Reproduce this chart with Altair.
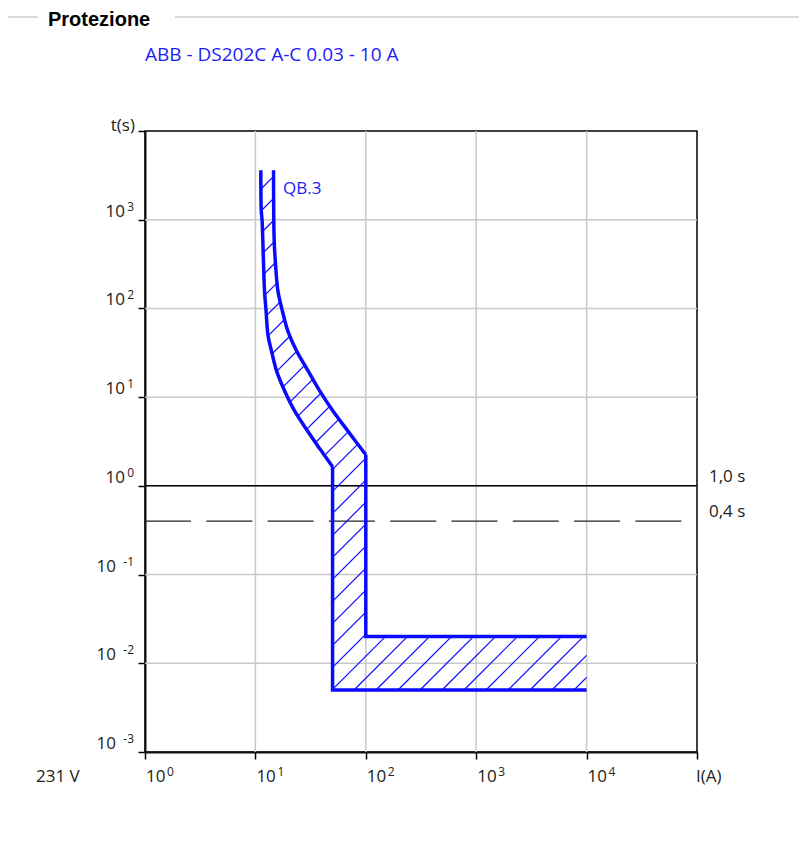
import numpy as np
import pandas as pd
import altair as alt

# ---------------- data ----------------
x_ticks = [1, 10, 100, 1000, 10000, 100000]
y_ticks = [0.001, 0.01, 0.1, 1, 10, 100, 1000, 10000]
x_grid = [10, 100, 1000, 10000]
y_grid = [0.01, 0.1, 1, 10, 100, 1000]
x_label_vals = [1, 10, 100, 1000, 10000]
x_label_exps = ["0", "1", "2", "3", "4"]
y_label_vals = [0.001, 0.01, 0.1, 1, 10, 100, 1000]
y_label_exps = ["-3", "-2", "-1", "0", "1", "2", "3"]

# left (lower) boundary of the tripping band, top -> bottom -> right
left_I = [11.2, 11.3, 11.5, 11.8, 12.1, 12.5, 13.0, 14.0, 15.6, 18.5, 22.8, 29.9, 38.5, 50.0, 50.0, 10000]
left_t = [3600, 1270, 975, 372, 157, 93, 50, 33, 19.5, 11.6, 6.9, 4.1, 2.6, 1.64, 0.005, 0.005]
LEFT_KNEE = 13          # index where the curved part ends
# right (upper) boundary, top -> bottom -> right
right_I = [14.6, 14.8, 15.3, 16.0, 17.3, 19.7, 23.7, 30.2, 38.5, 50.8, 69.4, 100, 100, 10000]
right_t = [3600, 578, 286, 157, 101, 55.4, 32.9, 19.5, 11.6, 6.88, 4.09, 2.24, 0.02, 0.02]
RIGHT_KNEE = 11

ref_t = [1.0, 0.4]
ref_labels = ["1,0 s", "0,4 s"]

frame_label = "Protezione"
title_text = "ABB - DS202C A-C 0.03 - 10 A"
device_label = "QB.3"
voltage_label = "231 V"
x_unit = "I(A)"
y_unit = "t(s)"

# ---------------- geometry ----------------
W, H = 552, 621
XMIN, XMAX = 1, 1e5
YMIN, YMAX = 1e-3, 1e4
NX = np.log10(XMAX / XMIN)
NY = np.log10(YMAX / YMIN)

FONT = "Open Sans"
BLUE = "#0a0aff"
TBLUE = "#1c1cf4"
TXT = "#222222"
FS = 17
FE = 12

xscale = alt.Scale(type="log", domain=[XMIN, XMAX], nice=False)
yscale = alt.Scale(type="log", domain=[YMIN, YMAX], nice=False)


def to_px(I, t):
    return np.array([W * np.log10(I / XMIN) / NX, H * np.log10(YMAX / t) / NY])


def from_px(p):
    return XMIN * 10 ** (p[0] * NX / W), YMAX / 10 ** (p[1] * NY / H)


# hatch lines (45 deg on screen) clipped to the band polygon
poly = [to_px(i, t) for i, t in zip(left_I, left_t)] + \
       [to_px(i, t) for i, t in zip(right_I[::-1], right_t[::-1])]
P = np.array(poly)
s = P[:, 0] + P[:, 1]
STEP, PHASE = 22.0, 768.0
c0 = PHASE + STEP * np.floor((s.min() - PHASE) / STEP)
rows = []
for c in np.arange(c0, s.max() + STEP, STEP):
    pts = []
    n = len(P)
    for k in range(n):
        a, b = P[k], P[(k + 1) % n]
        fa, fb = a.sum() - c, b.sum() - c
        if (fa < 0) != (fb < 0):
            r = fa / (fa - fb)
            pts.append(a + (b - a) * r)
    pts.sort(key=lambda p: p[0])
    for j in range(0, len(pts) - 1, 2):
        I1, t1 = from_px(pts[j])
        I2, t2 = from_px(pts[j + 1])
        rows.append({"I1": I1, "t1": t1, "I2": I2, "t2": t2})
hatch_df = pd.DataFrame(rows)


def part(I, t, name):
    return pd.DataFrame({"I": I, "t": t, "side": name, "idx": range(len(I))})


curved_df = pd.concat([
    part(left_I[:LEFT_KNEE + 1], left_t[:LEFT_KNEE + 1], "left"),
    part(right_I[:RIGHT_KNEE + 1], right_t[:RIGHT_KNEE + 1], "right"),
])
straight_df = pd.concat([
    part(left_I[LEFT_KNEE:], left_t[LEFT_KNEE:], "left"),
    part(right_I[RIGHT_KNEE:], right_t[RIGHT_KNEE:], "right"),
])

# ---------------- layers ----------------
xgrid = alt.Chart(pd.DataFrame({"I": x_grid})).mark_rule(color="#c8c8c8", strokeWidth=1.5).encode(
    x=alt.X("I:Q", scale=xscale, title=None,
            axis=alt.Axis(values=x_ticks, labels=False, grid=False, tickSize=7, tickWidth=1.5,
                          tickColor="black", domainColor="#111", domainWidth=2)))
ygrid = alt.Chart(pd.DataFrame({"t": y_grid})).mark_rule(color="#c8c8c8", strokeWidth=1.5).encode(
    y=alt.Y("t:Q", scale=yscale, title=None,
            axis=alt.Axis(values=y_ticks, labels=False, grid=False, tickSize=7, tickWidth=1.5,
                          tickColor="black", domainColor="#111", domainWidth=2)))

ref_df = pd.DataFrame({"t": ref_t, "lab": ref_labels})
ref_solid = alt.Chart(ref_df).transform_filter("datum.t == 1").mark_rule(
    color="black", strokeWidth=1.5).encode(
    x=alt.value(0), x2=alt.value(W), y=alt.Y("t:Q", scale=yscale, title=None))
ref_dash = alt.Chart(ref_df).transform_filter("datum.t != 1").mark_rule(
    color="#222", strokeWidth=1.2, strokeDash=[46, 15.3]).encode(
    x=alt.value(0), x2=alt.value(W), y=alt.Y("t:Q", scale=yscale, title=None))
ref_text = alt.Chart(ref_df).mark_text(
    align="left", baseline="alphabetic", dy=-4, fontSize=FS, font=FONT, color=TXT).encode(
    x=alt.value(564), y=alt.Y("t:Q", scale=yscale, title=None), text="lab:N")

hatch = alt.Chart(hatch_df).mark_rule(color=BLUE, strokeWidth=1.2).encode(
    x=alt.X("I1:Q", scale=xscale, title=None), y=alt.Y("t1:Q", scale=yscale, title=None),
    x2="I2:Q", y2="t2:Q")

curves = alt.Chart(curved_df).mark_line(
    color=BLUE, strokeWidth=3.5, strokeJoin="round", interpolate="catmull-rom").encode(
    x=alt.X("I:Q", scale=xscale, title=None), y=alt.Y("t:Q", scale=yscale, title=None),
    detail="side:N", order="idx:Q")
straights = alt.Chart(straight_df).mark_line(
    color=BLUE, strokeWidth=3.5, strokeJoin="miter").encode(
    x=alt.X("I:Q", scale=xscale, title=None), y=alt.Y("t:Q", scale=yscale, title=None),
    detail="side:N", order="idx:Q")

xl_df = pd.DataFrame({"I": x_label_vals, "exp": x_label_exps})
xbase = alt.Chart(xl_df).mark_text(align="left", baseline="alphabetic", dx=1, fontSize=FS,
                                   font=FONT, color=TXT).encode(
    x=alt.X("I:Q", scale=xscale, title=None), y=alt.value(651), text=alt.value("10"))
xexp = alt.Chart(xl_df).mark_text(align="left", baseline="alphabetic", dx=22, fontSize=FE,
                                  font=FONT, color=TXT).encode(
    x=alt.X("I:Q", scale=xscale, title=None), y=alt.value(645), text="exp:N")

yl_df = pd.DataFrame({"t": y_label_vals, "exp": y_label_exps})
ybase1 = alt.Chart(yl_df).transform_filter("length(datum.exp) == 1").mark_text(
    align="right", baseline="alphabetic", dy=-3, fontSize=FS, font=FONT, color=TXT).encode(
    x=alt.value(-20), y=alt.Y("t:Q", scale=yscale, title=None), text=alt.value("10"))
ybase2 = alt.Chart(yl_df).transform_filter("length(datum.exp) > 1").mark_text(
    align="right", baseline="alphabetic", dy=-3, fontSize=FS, font=FONT, color=TXT).encode(
    x=alt.value(-29), y=alt.Y("t:Q", scale=yscale, title=None), text=alt.value("10"))
yexp = alt.Chart(yl_df).mark_text(
    align="right", baseline="alphabetic", dy=-9, fontSize=FE, font=FONT, color=TXT).encode(
    x=alt.value(-11), y=alt.Y("t:Q", scale=yscale, title=None), text="exp:N")


def label(txt, x, y, size=FS, color=TXT, weight="normal", align="left", font=FONT):
    return alt.Chart(pd.DataFrame({"s": [txt]})).mark_text(
        align=align, baseline="alphabetic", fontSize=size, font=font, color=color,
        fontWeight=weight).encode(x=alt.value(x), y=alt.value(y), text="s:N")


frame_lines = alt.Chart(pd.DataFrame({"a": [-137, 30], "b": [-107, 654]})).mark_rule(
    color="#b4b4b4", strokeWidth=1).encode(
    x=alt.X("a:Q", scale=None), x2="b:Q", y=alt.value(-114))

texts = [
    label(frame_label, -97, -105, size=20, color="black", weight="bold", font="Liberation Sans"),
    label(title_text, 0, -70, size=19, color=TBLUE),
    label(device_label, 138, 63, size=FS, color=TBLUE),
    label(y_unit, -10, 0, size=FS, align="right"),
    label(voltage_label, -109, 651, size=FS),
    label(x_unit, 551, 651, size=FS),
]

chart = alt.layer(
    xgrid, ygrid, ref_solid, ref_dash, hatch, curves, straights, ref_text,
    xbase, xexp, ybase1, ybase2, yexp, *texts, frame_lines,
).properties(
    width=W, height=H,
    padding={"left": 137, "top": 123, "right": 102, "bottom": 93},
    autosize=alt.AutoSizeParams(type="none"),
    background="white",
).configure_view(stroke="black", strokeWidth=1.5)

chart.save("out.html", embed_options={"renderer": "svg", "actions": False})
